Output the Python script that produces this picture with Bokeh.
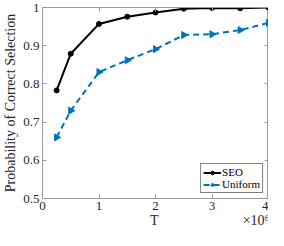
import numpy as np
from bokeh.plotting import figure
from bokeh.models import (LinearAxis, FixedTicker, Range1d, Legend, LegendItem,
                          CustomJSTickFormatter)
from bokeh.embed import file_html
from bokeh.resources import INLINE

T_millions = [0.25, 0.5, 1.0, 1.5, 2.0, 2.5, 3.0, 3.5, 4.0]
seo = [0.783, 0.879, 0.957, 0.976, 0.987, 0.997, 0.999, 0.998, 1.000]
uniform = [0.660, 0.730, 0.831, 0.862, 0.891, 0.928, 0.930, 0.941, 0.960]
x_ticks = [0, 1, 2, 3, 4]
y_ticks = [0.5, 0.6, 0.7, 0.8, 0.9, 1.0]
x_label = "T"
x_multiplier = "×10⁶"

FONT = "Liberation Serif"
AX = "#9a9a9a"
TXT = "#262626"
BLUE = "#0072BD"
NB = "\u00a0"

p = figure(width=268, height=230, output_backend="svg", toolbar_location=None,
           x_range=Range1d(0, 4), y_range=Range1d(0.5, 1.0),
           min_border_left=2, min_border_right=0, min_border_top=7, min_border_bottom=0)
p.xgrid.visible = False
p.ygrid.visible = False
p.outline_line_color = AX
p.outline_line_width = 1

def style(ax, labels=True):
    ax.major_tick_in = 4
    ax.major_tick_out = 0
    ax.minor_tick_in = 0
    ax.minor_tick_out = 0
    ax.axis_line_color = AX
    ax.major_tick_line_color = AX
    ax.major_label_text_font = FONT
    ax.major_label_text_font_size = "13px"
    ax.major_label_text_color = TXT
    ax.major_label_standoff = 3
    ax.axis_label_text_font = FONT
    ax.axis_label_text_font_style = "normal"
    ax.axis_label_text_font_size = "14px"
    ax.axis_label_text_color = TXT
    if not labels:
        ax.formatter = CustomJSTickFormatter(code="return ''")
        ax.major_label_standoff = 0

xa = p.xaxis[0]
xa.ticker = FixedTicker(ticks=x_ticks)
style(xa)
# keep "T" centred under the frame and push the multiplier to the right end of the same row
xa.axis_label = NB * 31 + x_label + NB * 24 + x_multiplier
xa.axis_label_standoff = 0
ya = p.yaxis[0]
ya.ticker = FixedTicker(ticks=y_ticks)
style(ya)
ya.axis_label = "Probability of Correct Selection"
ya.axis_label_standoff = 2

top = LinearAxis(ticker=FixedTicker(ticks=x_ticks))
style(top, labels=False)
p.add_layout(top, "above")
right = LinearAxis(ticker=FixedTicker(ticks=y_ticks))
style(right, labels=False)
p.add_layout(right, "right")

l1 = p.line(T_millions, seo, line_color="black", line_width=2)
m1 = p.scatter(T_millions, seo, marker="circle", size=5, fill_color="black", line_color="black")
l2 = p.line(T_millions, uniform, line_color=BLUE, line_width=2, line_dash="6 4")
m2 = p.scatter(T_millions, uniform, marker="triangle", size=7, angle=-np.pi / 2,
               fill_color=BLUE, line_color=BLUE)

legend = Legend(items=[LegendItem(label="SEO", renderers=[l1, m1]),
                       LegendItem(label="Uniform", renderers=[l2, m2])],
                location="bottom_right")
legend.label_text_font = FONT
legend.label_text_font_size = "11px"
legend.label_text_color = "black"
legend.glyph_width = 18
legend.glyph_height = 9
legend.label_height = 9
legend.label_standoff = 1
legend.spacing = 0
legend.padding = 2
legend.margin = 5
legend.border_line_color = "black"
legend.border_line_width = 1
legend.background_fill_alpha = 1
p.add_layout(legend)

open("out.html", "w").write(file_html(p, INLINE))
